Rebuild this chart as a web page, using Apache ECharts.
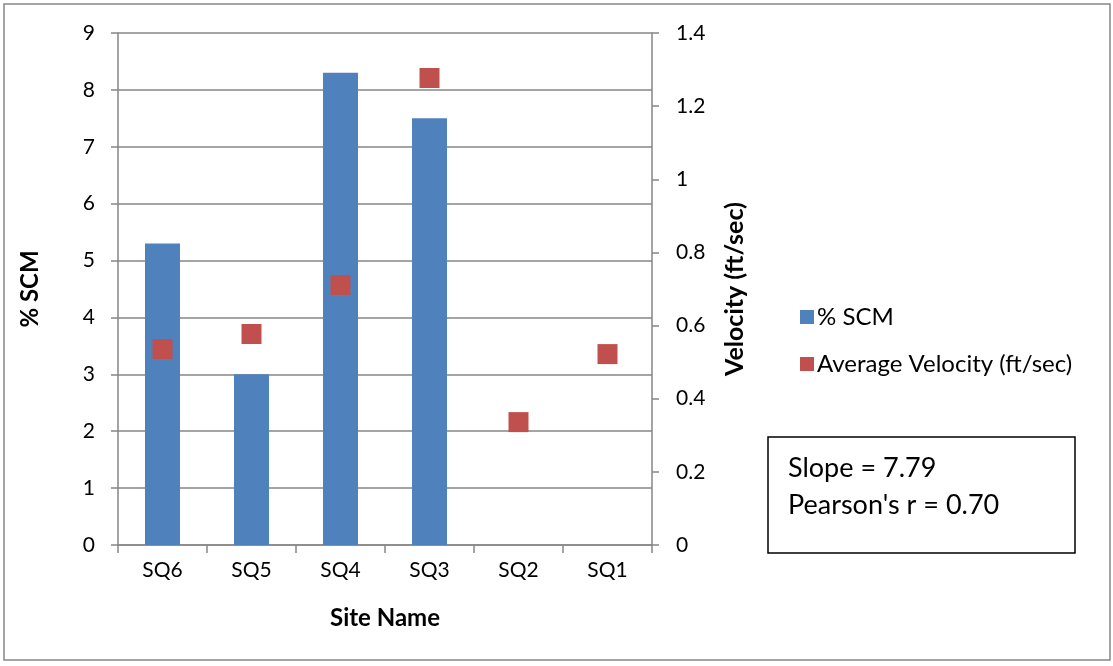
<!DOCTYPE html>
<html>
<head>
<meta charset="utf-8">
<script src="https://cdn.jsdelivr.net/npm/echarts@6/dist/echarts.min.js"></script>
<style>
  html, body { margin: 0; padding: 0; background: #fff; }
  #chart { width: 1113px; height: 666px; }
</style>
</head>
<body>
<div id="chart"></div>
<script>
// Sites along the x axis
const sites = ['SQ6', 'SQ5', 'SQ4', 'SQ3', 'SQ2', 'SQ1'];
// Percent SCM per site (no value for SQ2 and SQ1)
const scmPercent = [5.3, 3.0, 8.3, 7.5, null, null];
// Average velocity per site (ft/sec)
const avgVelocity = [0.536, 0.577, 0.711, 1.277, 0.336, 0.522];
// Regression summary shown in the text box
const statLines = ['Slope = 7.79', "Pearson's r = 0.70"];

const FONT = 'Lato, "Open Sans", sans-serif';
const GRAY = '#868686';

const chart = echarts.init(document.getElementById('chart'), null, { renderer: 'canvas' });

chart.setOption({
  animation: false,
  textStyle: { fontFamily: FONT },
  grid: { left: 118, right: 461, top: 33, bottom: 121, containLabel: false },
  legend: {
    orient: 'vertical',
    left: 795,
    top: 300,
    itemWidth: 14,
    itemHeight: 14,
    itemGap: 23,
    icon: 'rect',
    textStyle: { fontFamily: FONT, fontSize: 24, color: '#000', padding: [0, 0, 0, -2] },
    data: ['% SCM', 'Average Velocity (ft/sec)']
  },
  xAxis: {
    type: 'category',
    data: sites,
    boundaryGap: true,
    name: 'Site Name',
    nameLocation: 'middle',
    nameGap: 61,
    nameTextStyle: { fontFamily: FONT, fontSize: 24, fontWeight: 'bold', color: '#000' },
    axisLine: { lineStyle: { color: GRAY, width: 1.5 } },
    axisTick: { show: true, alignWithLabel: false, interval: 0, length: 8, lineStyle: { color: GRAY, width: 1.5 } },
    axisLabel: { fontFamily: FONT, fontSize: 21, color: '#000', margin: 15 },
    splitLine: { show: false }
  },
  yAxis: [
    {
      type: 'value',
      min: 0, max: 9, interval: 1,
      name: '% SCM',
      nameLocation: 'middle',
      nameGap: 76,
      nameRotate: 90,
      nameTextStyle: { fontFamily: FONT, fontSize: 24, fontWeight: 'bold', color: '#000' },
      axisLine: { show: true, lineStyle: { color: GRAY, width: 1.5 } },
      axisTick: { show: true, length: 7, lineStyle: { color: GRAY, width: 1.5 } },
      axisLabel: { fontFamily: FONT, fontSize: 21, color: '#000', margin: 23 },
      splitLine: { show: true, lineStyle: { color: GRAY, width: 1.5 } }
    },
    {
      type: 'value',
      min: 0, max: 1.4, interval: 0.2,
      position: 'right',
      name: 'Velocity (ft/sec)',
      nameLocation: 'middle',
      nameGap: 70,
      nameRotate: 90,
      nameTextStyle: { fontFamily: FONT, fontSize: 25, fontWeight: 'bold', color: '#000' },
      axisLine: { show: true, lineStyle: { color: GRAY, width: 1.5 } },
      axisTick: { show: true, length: 7, lineStyle: { color: GRAY, width: 1.5 } },
      axisLabel: {
        fontFamily: FONT, fontSize: 21, color: '#000', margin: 24,
        formatter: v => String(Math.round(v * 10) / 10)
      },
      splitLine: { show: false }
    }
  ],
  series: [
    {
      name: '% SCM',
      type: 'bar',
      yAxisIndex: 0,
      data: scmPercent,
      barWidth: 35,
      itemStyle: { color: '#4F81BD' }
    },
    {
      name: 'Average Velocity (ft/sec)',
      type: 'scatter',
      yAxisIndex: 1,
      data: avgVelocity,
      symbol: 'rect',
      symbolSize: 20,
      itemStyle: { color: '#C0504D', opacity: 1 }
    }
  ],
  graphic: [
    {
      type: 'rect',
      shape: { x: 4, y: 4, width: 1106, height: 656 },
      style: { fill: 'none', stroke: GRAY, lineWidth: 1.5 },
      silent: true
    },
    {
      type: 'rect',
      shape: { x: 768, y: 437, width: 307, height: 116 },
      style: { fill: '#fff', stroke: '#000', lineWidth: 1.5 },
      silent: true
    },
    {
      type: 'text',
      left: 788,
      top: 450,
      style: {
        text: statLines.join('\n'),
        fontFamily: FONT,
        fontSize: 27,
        lineHeight: 37,
        fill: '#000'
      },
      silent: true
    }
  ]
});
</script>
</body>
</html>
